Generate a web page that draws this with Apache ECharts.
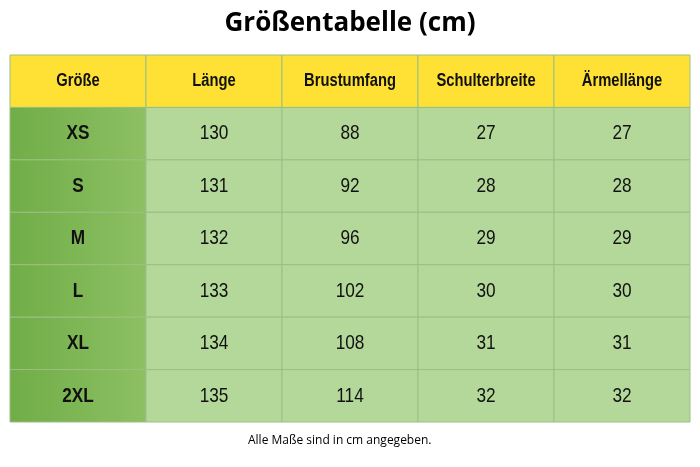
<!DOCTYPE html>
<html><head><meta charset="utf-8">
<script src="https://cdn.jsdelivr.net/npm/echarts@6/dist/echarts.min.js"></script>
<style>html,body{margin:0;padding:0;background:#fff}#c{width:700px;height:467px}</style>
</head><body><div id="c"></div>
<script>
const headers = ['Größe','Länge','Brustumfang','Schulterbreite','Ärmellänge'];
const sizes = ['XS','S','M','L','XL','2XL'];
const laenge = [130,131,132,133,134,135];
const brust = [88,92,96,102,108,114];
const schulter = [27,28,29,30,31,32];
const aermel = [27,28,29,30,31,32];

const rowsCat = ['H'].concat(sizes);
const cols = [sizes, laenge, brust, schulter, aermel];
const data = [];
headers.forEach((h,i)=>data.push([i,'H',h]));
cols.forEach((col,i)=>col.forEach((v,j)=>data.push([i,sizes[j],String(v)])));

const chart = echarts.init(document.getElementById('c'));
chart.setOption({
  animation:false,
  title:[{text:'Größentabelle (cm)',left:'center',top:6,textStyle:{fontFamily:'Open Sans',fontWeight:'bold',fontSize:26,color:'#000'}},
         {text:'Alle Maße sind in cm angegeben.',left:243,top:430,textStyle:{fontFamily:'Open Sans',fontWeight:'normal',fontSize:12,color:'#000'}}],
  grid:{left:10,right:10,top:55,bottom:45},
  xAxis:{type:'category',data:[0,1,2,3,4],show:false},
  yAxis:{type:'category',data:rowsCat,inverse:true,show:false},
  series:[{type:'custom',data:data,encode:{x:0,y:1},
    renderItem:function(params,api){
      const x=api.value(0), y=api.value(1);
      const c=api.coord([x,y]); const s=api.size([1,1]);
      const yi = typeof y==='number'?y:rowsCat.indexOf(y);
      const header = yi===0, first = x===0 && yi>0;
      let fill = header ? '#FFE135' : (first ? {type:'linear',x:0,y:0,x2:1,y2:0,colorStops:[{offset:0,color:'#70AD47'},{offset:1,color:'#8DC063'}]} : '#B4D89A');
      return {type:'group',children:[
        {type:'rect',shape:{x:c[0]-s[0]/2,y:c[1]-s[1]/2,width:s[0],height:s[1]},style:{fill:fill,stroke:'#9BBF82',lineWidth:1}},
        {type:'text',x:c[0],y:c[1],scaleX:0.82,style:{text:api.value(2),x:0,y:0,align:'center',verticalAlign:'middle',
          fontFamily:'Liberation Sans, Arial, sans-serif',fontWeight:(header||first)?'bold':'normal',
          fontSize:header?18:21,fill:'#111'}}
      ]};
    }}]
});
</script></body></html>
